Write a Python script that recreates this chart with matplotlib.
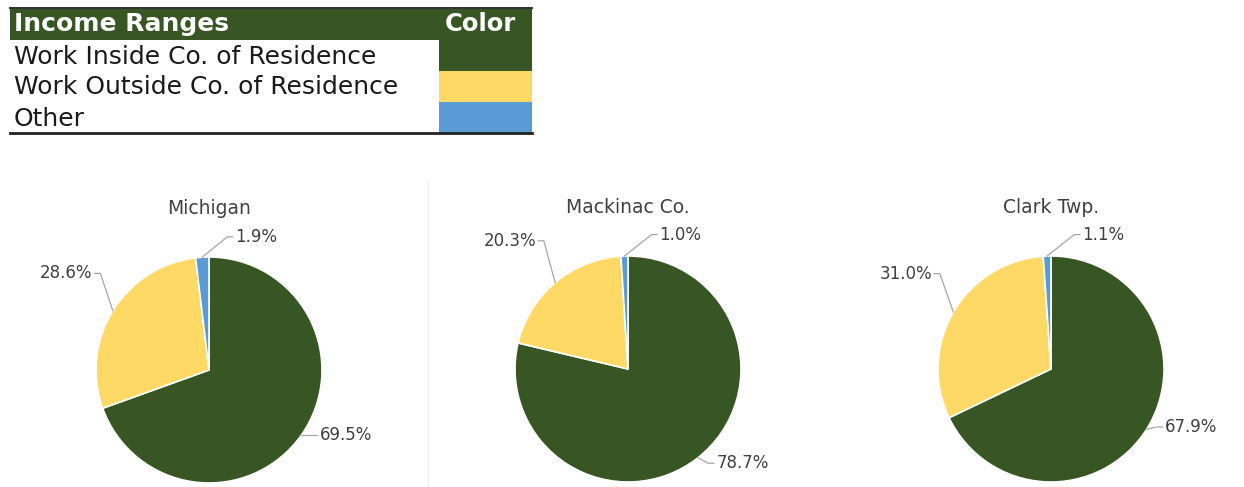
import numpy as np
import matplotlib.pyplot as plt
from matplotlib.patches import Rectangle

# Data
categories = ["Work Inside Co. of Residence", "Work Outside Co. of Residence", "Other"]
regions = ["Michigan", "Mackinac Co.", "Clark Twp."]
michigan = [69.5, 28.6, 1.9]
mackinac = [78.7, 20.3, 1.0]
clark = [67.9, 31.0, 1.1]
colors = ["#375623", "#FFD966", "#5B9BD5"]

# Layout (pixels) and label offsets (radius units, from slice edge)
W, H = 1244, 487
R = 113
centers = [(209, 370), (628, 369), (1051, 369)]
label_offsets = [
    [(0.16, 0.00), (-0.18, 0.33), (0.29, 0.18)],
    [(0.16, -0.05), (-0.17, 0.37), (0.31, 0.19)],
    [(0.16, 0.02), (-0.19, 0.34), (0.31, 0.19)],
]
text_col = "#404040"
lead_col = "#a6a6a6"

fig = plt.figure(figsize=(W / 100, H / 100), dpi=100)

# Legend table + separator drawn in pixel space
bg = fig.add_axes([0, 0, 1, 1])
bg.set_xlim(0, W)
bg.set_ylim(H, 0)
bg.axis("off")

tx0, tx1, cx0 = 10, 532, 439
row_y = [40, 71, 102, 133]
bg.add_patch(Rectangle((tx0, 8), tx1 - tx0, row_y[0] - 8, color=colors[0], lw=0))
bg.plot([tx0, tx1], [8, 8], color="#333333", lw=1.5)
bg.text(14, 24, "Income Ranges", color="white", fontsize=18, fontweight="bold", va="center")
bg.text(445, 24, "Color", color="white", fontsize=17.5, fontweight="bold", va="center")
for i, (cat, col) in enumerate(zip(categories, colors)):
    y0, y1 = row_y[i], row_y[i + 1]
    bg.add_patch(Rectangle((cx0, y0), tx1 - cx0, y1 - y0, color=col, lw=0))
    bg.text(14, (y0 + y1) / 2 + 1, cat, color="#1a1a1a", fontsize=18, va="center")
bg.plot([tx0, tx1], [row_y[-1], row_y[-1]], color="#222222", lw=2)
bg.plot([428, 428], [180, H], color="#f0f0f0", lw=1)

# Pies
for k, (name, vals) in enumerate(zip(regions, [michigan, mackinac, clark])):
    cx, cy = centers[k]
    ax = fig.add_axes([(cx - 1.6 * R) / W, (H - cy - 1.25 * R) / H,
                       3.2 * R / W, 2.85 * R / H])
    ax.pie(vals, colors=colors, startangle=90, counterclock=False,
           wedgeprops=dict(edgecolor="white", linewidth=1.2))
    ax.set_xlim(-1.6, 1.6)
    ax.set_ylim(-1.25, 1.6)
    ax.set_aspect("auto")
    ax.axis("off")
    ax.text(0, 1.43, name, ha="center", va="center", fontsize=13.5, color=text_col)

    v = np.array(vals)
    cum = np.cumsum(v)
    mids = np.deg2rad(90 - 360 * (cum - v / 2) / v.sum())
    for j, th in enumerate(mids):
        ex, ey = np.cos(th), np.sin(th)
        dx, dy = label_offsets[k][j]
        lx, ly = ex + dx, ey + dy
        sgn = 1 if dx > 0 else -1
        ax.plot([ex, lx - sgn * 0.07, lx - sgn * 0.02], [ey, ly, ly],
                color=lead_col, lw=0.9, clip_on=False)
        ax.text(lx, ly, f"{vals[j]:.1f}%", ha="left" if sgn > 0 else "right",
                va="center", fontsize=12, color=text_col)

fig.savefig("out.png", dpi=100)
